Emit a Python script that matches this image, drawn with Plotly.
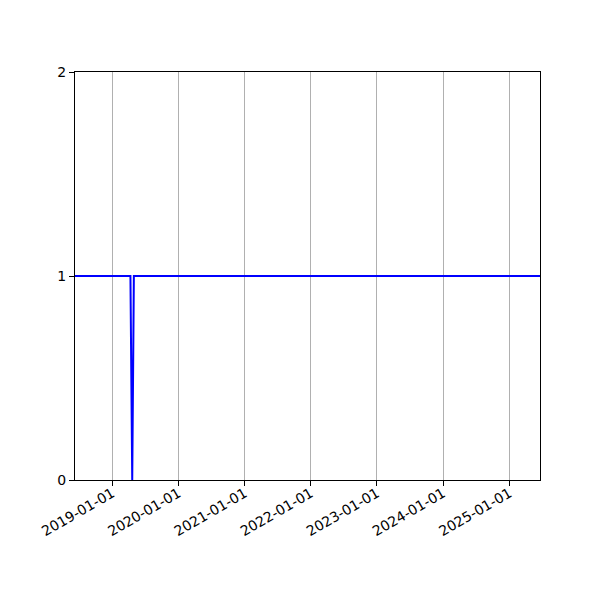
import plotly.graph_objects as go

# series
dates = ["2018-06-09", "2019-04-11", "2019-04-21", "2019-04-30", "2025-06-19"]
values = [1, 1, 0, 1, 1]

tick_dates = ["2019-01-01", "2020-01-01", "2021-01-01", "2022-01-01",
              "2023-01-01", "2024-01-01", "2025-01-01"]
y_ticks = [0, 1, 2]

fig = go.Figure()
fig.add_trace(go.Scatter(x=dates, y=values, mode="lines",
                         line=dict(color="blue", width=2)))

# the page body adds an 8px offset, margins are set with that in mind
fig.update_layout(
    width=600, height=600,
    margin=dict(l=67, r=68, t=64, b=128),
    plot_bgcolor="white", paper_bgcolor="white",
    showlegend=False,
    font=dict(family="DejaVu Sans", size=14, color="black"),
)
fig.update_xaxes(
    range=["2018-06-09", "2025-06-19"],
    tickvals=tick_dates, ticktext=tick_dates, tickangle=-30,
    showgrid=True, gridcolor="#b0b0b0", gridwidth=1,
    ticks="outside", ticklen=5, tickcolor="black",
    showline=True, linecolor="black", linewidth=1, mirror=True,
    zeroline=False, ticklabelstandoff=-6,
)
fig.update_yaxes(
    range=[0, 2], tickvals=y_ticks,
    showgrid=False, zeroline=False,
    ticks="outside", ticklen=5, tickcolor="black",
    showline=True, linecolor="black", linewidth=1, mirror=True,
)

fig.write_html("out.html")
